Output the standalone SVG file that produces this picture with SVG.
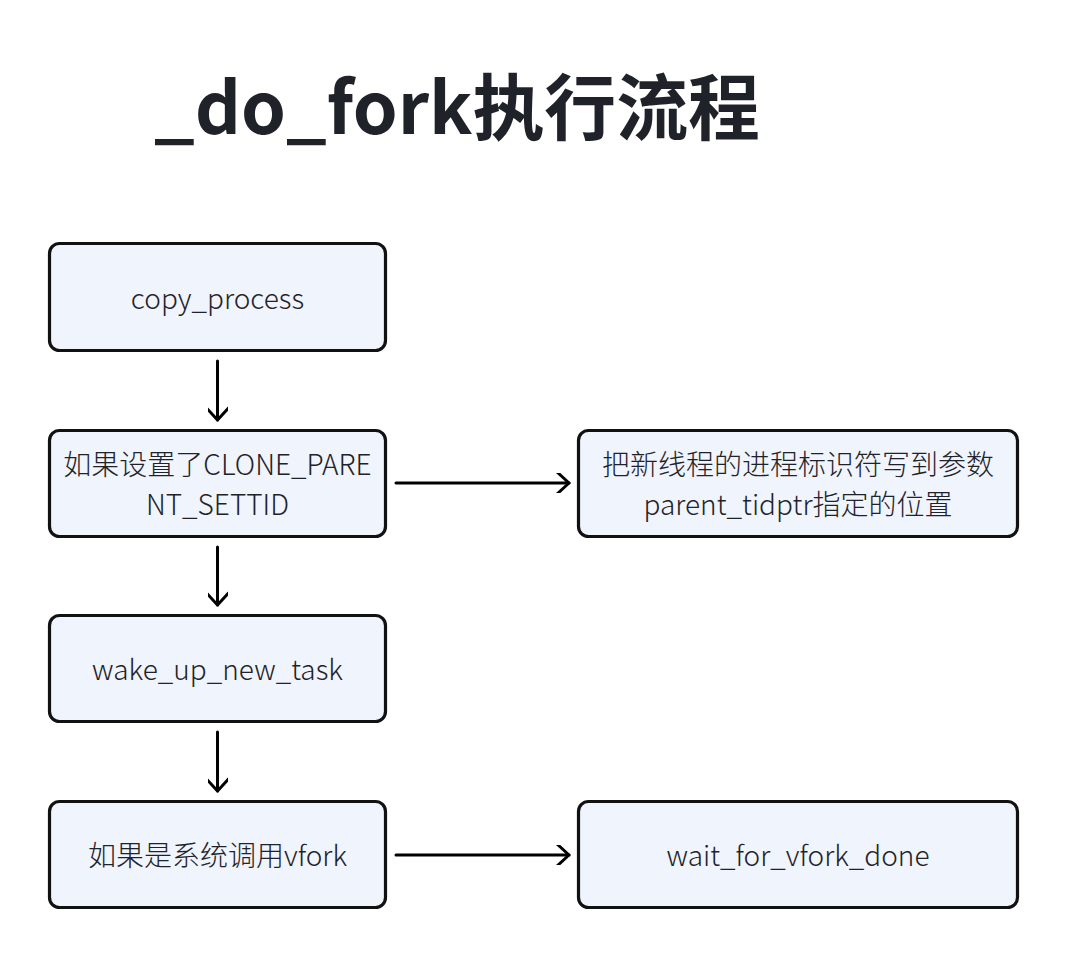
<svg xmlns="http://www.w3.org/2000/svg" width="1068" height="960" viewBox="0 0 1068 960">
<defs>
<style>
.box{fill:#eff4fd;stroke:#111;stroke-width:3.2}
.t{font-family:"Noto Sans CJK SC","Noto Sans",sans-serif;font-size:28px;font-weight:300;fill:#1f2329;text-anchor:middle}
.title{font-family:"Noto Sans CJK SC","Noto Sans",sans-serif;font-size:72px;font-weight:bold;fill:#1f2329}
.c{fill:none;stroke:#000;stroke-width:3;stroke-linecap:round}
</style>
<marker id="ah" viewBox="0 0 20 20" refX="14" refY="10" markerWidth="20" markerHeight="20" markerUnits="userSpaceOnUse" orient="auto">
<polyline points="2,-1 14,10 2,21" fill="none" stroke="#000" stroke-width="3" stroke-linecap="round" stroke-linejoin="round"/>
</marker>
</defs>
<rect width="1068" height="960" fill="#fff"/>
<text class="title" x="154" y="134" textLength="606" lengthAdjust="spacingAndGlyphs">_do_fork执行流程</text>
<g id="n1"><rect class="box" x="49.5" y="243.5" width="336" height="107" rx="10"/><text class="t" x="217.5" y="309">copy_process</text></g>
<g id="n2"><rect class="box" x="49.5" y="430.5" width="336" height="106" rx="10"/><text class="t" x="217.5" y="475">如果设置了CLONE_PARE</text><text class="t" x="217.5" y="515">NT_SETTID</text></g>
<g id="n3"><rect class="box" x="578.5" y="430.5" width="439" height="106" rx="10"/><text class="t" x="798" y="475">把新线程的进程标识符写到参数</text><text class="t" x="798" y="515">parent_tidptr指定的位置</text></g>
<g id="n4"><rect class="box" x="49.5" y="615.5" width="336" height="106" rx="10"/><text class="t" x="217.5" y="680">wake_up_new_task</text></g>
<g id="n5"><rect class="box" x="49.5" y="801.5" width="336" height="106" rx="10"/><text class="t" x="217.5" y="866">如果是系统调用vfork</text></g>
<g id="n6"><rect class="box" x="578.5" y="801.5" width="439" height="106" rx="10"/><text class="t" x="798" y="866">wait_for_vfork_done</text></g>
<g id="connectors">
<line class="c" x1="217.5" y1="361" x2="217.5" y2="420" marker-end="url(#ah)"/>
<line class="c" x1="217.5" y1="547" x2="217.5" y2="605" marker-end="url(#ah)"/>
<line class="c" x1="217.5" y1="732" x2="217.5" y2="791" marker-end="url(#ah)"/>
<line class="c" x1="396" y1="483" x2="569" y2="483" marker-end="url(#ah)"/>
<line class="c" x1="396" y1="855" x2="569" y2="855" marker-end="url(#ah)"/>
</g>
</svg>
